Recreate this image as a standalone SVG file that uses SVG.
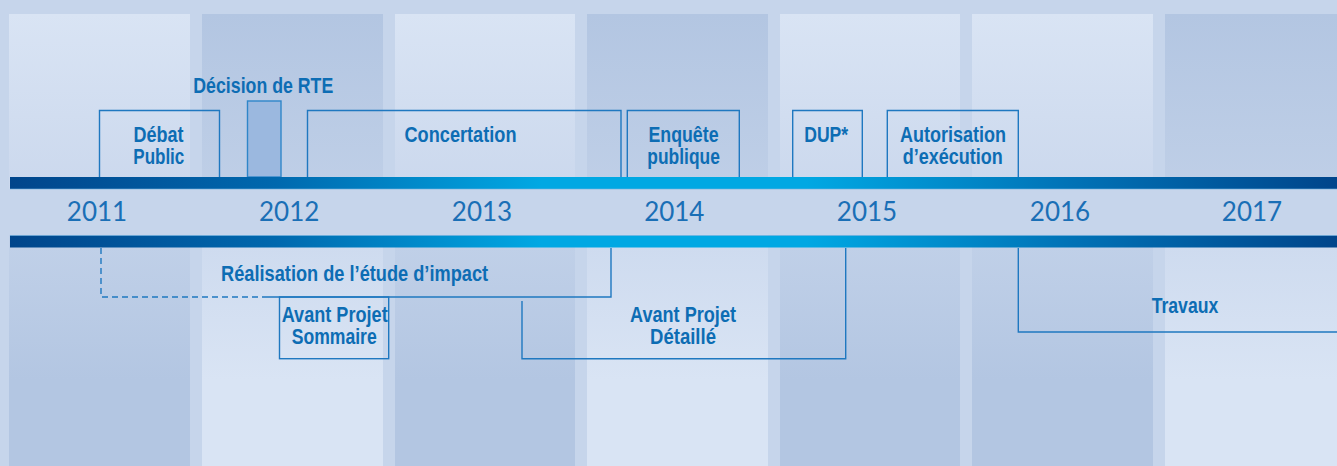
<svg xmlns="http://www.w3.org/2000/svg" width="1337" height="466" viewBox="0 0 1337 466">
  <defs>
    <linearGradient id="bar" gradientUnits="userSpaceOnUse" x1="10" y1="0" x2="1337" y2="0">
      <stop offset="0" stop-color="#00458b"/>
      <stop offset="0.2" stop-color="#0068ae"/>
      <stop offset="0.4" stop-color="#00a8e3"/>
      <stop offset="0.6" stop-color="#00a8e3"/>
      <stop offset="0.8" stop-color="#0072b6"/>
      <stop offset="1" stop-color="#00458b"/>
    </linearGradient>
    <linearGradient id="topLight" x1="0" y1="0" x2="0" y2="1">
      <stop offset="0" stop-color="#d9e4f4"/>
      <stop offset="1" stop-color="#cbd8ed"/>
    </linearGradient>
    <linearGradient id="topDark" x1="0" y1="0" x2="0" y2="1">
      <stop offset="0" stop-color="#b3c6e2"/>
      <stop offset="1" stop-color="#bfcfe7"/>
    </linearGradient>
    <linearGradient id="botLight" gradientUnits="userSpaceOnUse" x1="0" y1="247" x2="0" y2="380">
      <stop offset="0" stop-color="#cedbef"/>
      <stop offset="1" stop-color="#d9e4f4"/>
    </linearGradient>
    <linearGradient id="botDark" gradientUnits="userSpaceOnUse" x1="0" y1="247" x2="0" y2="380">
      <stop offset="0" stop-color="#c0d0e8"/>
      <stop offset="1" stop-color="#b3c6e2"/>
    </linearGradient>
    <style>
      .lbl { font-family: "Liberation Sans Narrow", "Liberation Sans", Arial, sans-serif; font-weight: bold; font-size: 22.5px; fill: #0d6db4; text-anchor: middle; }
      .year { font-family: Lato, "Open Sans", "Liberation Sans", sans-serif; font-weight: 400; font-size: 26px; fill: #1a6fb6; text-anchor: middle; }
      .box { fill: none; stroke: #1f78c0; stroke-width: 1.4; }
      .dash { fill: none; stroke: #1f78c0; stroke-width: 1.4; stroke-dasharray: 6 4; }
    </style>
  </defs>

  <!-- background and year columns -->
  <rect x="0" y="0" width="1337" height="466" fill="#c6d5eb"/>
  <g id="columns-top">
    <rect x="9" y="14" width="181" height="176" fill="url(#topLight)"/>
    <rect x="202" y="14" width="181" height="176" fill="url(#topDark)"/>
    <rect x="395" y="14" width="180" height="176" fill="url(#topLight)"/>
    <rect x="587" y="14" width="181" height="176" fill="url(#topDark)"/>
    <rect x="780" y="14" width="180" height="176" fill="url(#topLight)"/>
    <rect x="972" y="14" width="181" height="176" fill="url(#topLight)"/>
    <rect x="1165" y="14" width="172" height="176" fill="url(#topDark)"/>
  </g>
  <g id="columns-bottom">
    <rect x="9" y="234" width="181" height="232" fill="url(#botDark)"/>
    <rect x="202" y="234" width="181" height="232" fill="url(#botLight)"/>
    <rect x="395" y="234" width="180" height="232" fill="url(#botDark)"/>
    <rect x="587" y="234" width="181" height="232" fill="url(#botLight)"/>
    <rect x="780" y="234" width="180" height="232" fill="url(#botDark)"/>
    <rect x="972" y="234" width="181" height="232" fill="url(#botDark)"/>
    <rect x="1165" y="234" width="172" height="232" fill="url(#botLight)"/>
  </g>
  <rect x="0" y="189" width="1337" height="46" fill="#c6d5eb" opacity="0.85"/>

  <!-- connectors: phase brackets -->
  <g id="connectors">
    <path class="dash" d="M101 248 V297 H267"/>
    <path class="box" d="M267 297 H611 V248"/>
    <path class="box" d="M522 301 V358.7 H845.7 V248"/>
    <path class="box" d="M1018.3 248 V332 H1337"/>
  </g>

  <!-- top phases -->
  <g id="debat-public">
    <path class="box" d="M99.5 177 V110.5 H219.5 V177"/>
    <text class="lbl" x="158.5" y="141.5" textLength="50" lengthAdjust="spacingAndGlyphs">Débat</text>
    <text class="lbl" x="158.8" y="164" textLength="51" lengthAdjust="spacingAndGlyphs">Public</text>
  </g>
  <g id="decision-rte">
    <rect x="247.5" y="101" width="33.5" height="76" fill="#9bb8df" stroke="#2f86c9" stroke-width="1.4"/>
    <text class="lbl" x="263.3" y="93" textLength="140" lengthAdjust="spacingAndGlyphs">Décision de RTE</text>
  </g>
  <g id="concertation">
    <path class="box" d="M307.5 177 V110.5 H621 V177"/>
    <text class="lbl" x="460.5" y="141.5" textLength="112" lengthAdjust="spacingAndGlyphs">Concertation</text>
  </g>
  <g id="enquete-publique">
    <path class="box" d="M627.3 177 V110.5 H739.3 V177"/>
    <text class="lbl" x="683.5" y="141.5" textLength="70" lengthAdjust="spacingAndGlyphs">Enquête</text>
    <text class="lbl" x="683.6" y="164" textLength="72.5" lengthAdjust="spacingAndGlyphs">publique</text>
  </g>
  <g id="dup">
    <path class="box" d="M792.7 177 V110.5 H862.3 V177"/>
    <text class="lbl" x="826.2" y="141.5" textLength="44" lengthAdjust="spacingAndGlyphs">DUP*</text>
  </g>
  <g id="autorisation">
    <path class="box" d="M887.3 177 V110.5 H1018.3 V177"/>
    <text class="lbl" x="953" y="141.5" textLength="106" lengthAdjust="spacingAndGlyphs">Autorisation</text>
    <text class="lbl" x="952.7" y="164" textLength="100" lengthAdjust="spacingAndGlyphs">d’exécution</text>
  </g>

  <!-- timeline bars and years -->
  <g id="timeline">
    <rect x="10" y="177" width="1327" height="12" fill="url(#bar)"/>
    <line x1="10" y1="189" x2="1337" y2="189" stroke="#6fb2e0" stroke-width="1" opacity="0.6"/>
    <rect x="10" y="235.5" width="1327" height="12" fill="url(#bar)"/>
    <line x1="10" y1="235.5" x2="1337" y2="235.5" stroke="#6fb2e0" stroke-width="1" opacity="0.6"/>
    <text class="year" x="97" y="221">2011</text>
    <text class="year" x="289.2" y="221">2012</text>
    <text class="year" x="482" y="221">2013</text>
    <text class="year" x="674.3" y="221">2014</text>
    <text class="year" x="867" y="221">2015</text>
    <text class="year" x="1060" y="221">2016</text>
    <text class="year" x="1252" y="221">2017</text>
  </g>

  <!-- bottom phases -->
  <g id="etude-impact">
    <text class="lbl" x="354.6" y="281" textLength="267" lengthAdjust="spacingAndGlyphs">Réalisation de l’étude d’impact</text>
  </g>
  <g id="avant-projet-sommaire">
    <rect class="box" x="279.5" y="297" width="109.2" height="61.7"/>
    <text class="lbl" x="334.7" y="321.5" textLength="106" lengthAdjust="spacingAndGlyphs">Avant Projet</text>
    <text class="lbl" x="334.2" y="344" textLength="85" lengthAdjust="spacingAndGlyphs">Sommaire</text>
  </g>
  <g id="avant-projet-detaille">
    <text class="lbl" x="683" y="321.5" textLength="106" lengthAdjust="spacingAndGlyphs">Avant Projet</text>
    <text class="lbl" x="683" y="344" textLength="66" lengthAdjust="spacingAndGlyphs">Détaillé</text>
  </g>
  <g id="travaux">
    <text class="lbl" x="1185" y="313" textLength="66.7" lengthAdjust="spacingAndGlyphs">Travaux</text>
  </g>
</svg>
